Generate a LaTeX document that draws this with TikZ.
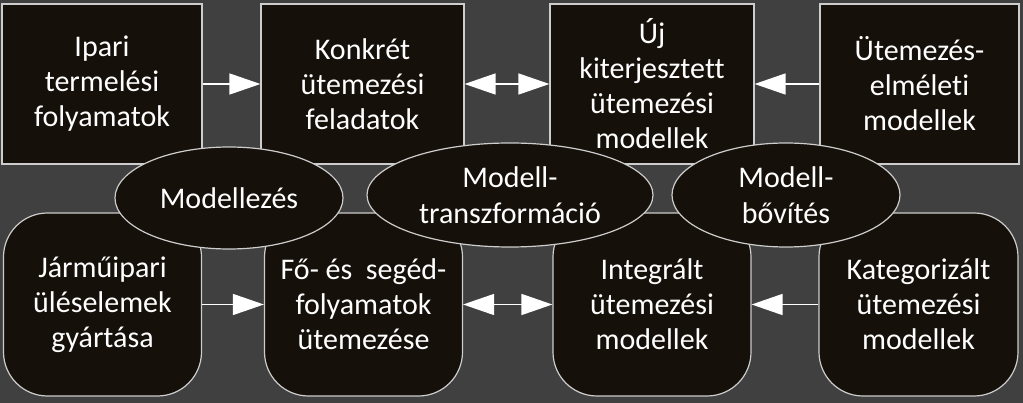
\documentclass[tikz,border=0pt]{standalone}
\usepackage{fontspec}
\setmainfont{Carlito}[RawFeature={-liga;-clig;-calt;-dlig;-hlig}]
\usetikzlibrary{shapes.geometric, arrows.meta}
\usepackage{xcolor}
\definecolor{bgcolor}{RGB}{64,64,64}
\definecolor{boxcolor}{RGB}{22,16,10}
\definecolor{edgecolor}{RGB}{205,205,205}

\begin{document}
\begin{tikzpicture}[x=1pt,y=-1pt]
  \tikzset{
    topbox/.style={
      draw=edgecolor,
      line width=1.2pt,
      fill=boxcolor,
      text=white,
      minimum width=200pt,
      minimum height=160pt,
      inner sep=0pt,
      align=center,
      anchor=center,
      font=\fontsize{30}{35}\selectfont
    },
    botbox/.style={
      topbox,
      minimum width=198pt,
      minimum height=183pt,
      rounded corners=44pt
    },
    oval/.style={
      ellipse,
      draw=edgecolor,
      line width=1.2pt,
      fill=boxcolor,
      text=white,
      inner sep=0pt,
      align=center,
      anchor=center,
      font=\fontsize{30}{36}\selectfont
    },
    link/.style={
      draw=white,
      line width=1.5pt,
      -{Triangle[length=31pt,width=21pt]}
    },
    duallink/.style={
      link,
      {Triangle[length=31pt,width=21pt]}-{Triangle[length=31pt,width=21pt]}
    }
  }

  % Background
  \fill[bgcolor] (0,0) rectangle (1023,403);

  % Top row
  \node[topbox] at (102, 84) (ipari) {Ipari\\termelési\\folyamatok};
  \node[topbox, minimum width=203pt] at (362.5, 84) (konkret) {Konkrét\\ütemezési\\feladatok};
  \node[topbox, minimum width=204pt] at (652, 84) (uj) {Új\\kiterjesztett\\ütemezési\\modellek};
  \node[topbox, minimum width=199pt] at (919.5, 84) (elmeleti) {Ütemezés-\\elméleti\\modellek};

  % Bottom row
  \node[botbox] at (102.5, 304.5) (jarmu) {Járműipari\\üléselemek\\gyártása};
  \node[botbox] at (363.5, 304.5) (fosegeed) {Fő- és\ \ segéd-\\folyamatok\\ütemezése};
  \node[botbox] at (652, 304.5) (integralt) {Integrált\\ütemezési\\modellek};
  \node[botbox, minimum width=199pt] at (918.5, 304.5) (kategor) {Kategorizált\\ütemezési\\modellek};

  % Connectors
  \draw[link] (ipari) -- (konkret);
  \draw[duallink] (konkret) -- (uj);
  \draw[link] (elmeleti) -- (uj);
  \draw[link] (jarmu) -- (fosegeed);
  \draw[duallink] (fosegeed) -- (integralt);
  \draw[link] (kategor) -- (integralt);

  % Ellipses on top
  \node[oval, minimum width=228pt, minimum height=102pt] at (229, 198) (modellezes) {Modellezés};
  \node[oval, minimum width=286pt, minimum height=104pt] at (510, 195) (transz) {Modell-\\transzformáció};
  \node[oval, minimum width=228pt, minimum height=104pt] at (786, 195) (bovites) {Modell-\\bővítés};
\end{tikzpicture}
\end{document}
